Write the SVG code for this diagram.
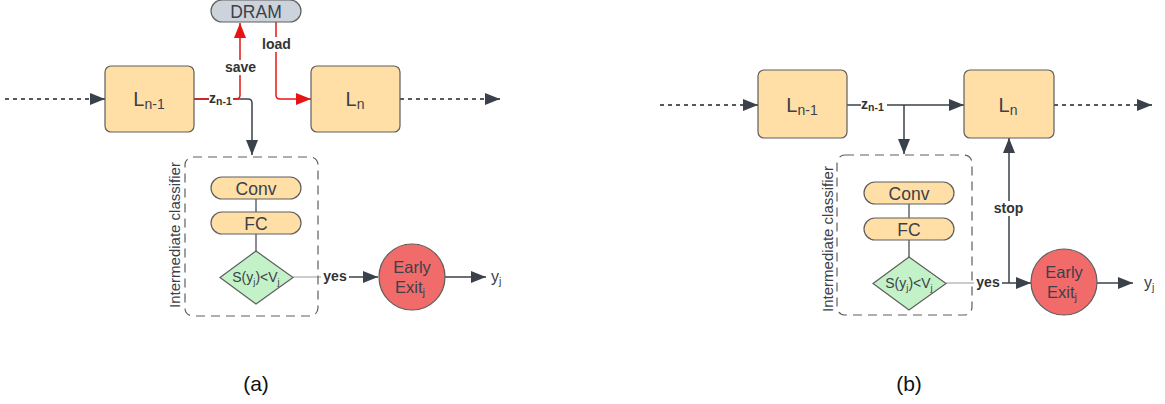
<svg xmlns="http://www.w3.org/2000/svg" width="1165" height="404" viewBox="0 0 1165 404">
<style>
.box{fill:#FFDFA6;stroke:#5E5E5E;stroke-width:1.2}
.pill{fill:#FFDFA6;stroke:#5E5E5E;stroke-width:1.2}
.dia{fill:#C4F2C8;stroke:#5E5E5E;stroke-width:1.2}
.circ{fill:#F26B6B;stroke:#5E5E5E;stroke-width:1.2}
.dram{fill:#CDD3DB;stroke:#5E5E5E;stroke-width:1.2}
.grp{fill:none;stroke:#5E5E5E;stroke-width:1.2;stroke-dasharray:9,6}
.ln{fill:none;stroke:#3A414A;stroke-width:1.5}
.thin{fill:none;stroke:#3A414A;stroke-width:1.2}
.gray{fill:none;stroke:#9A9A9A;stroke-width:1.2}
.dash{fill:none;stroke:#1F242A;stroke-width:1.4;stroke-dasharray:4,4}
.red{fill:none;stroke:#E81414;stroke-width:1.5}
text{font-family:"Liberation Sans",Arial,sans-serif;fill:#3A414A}
.big{font-size:20px}
.mid{font-size:17.5px}
.lab{font-size:14px;font-weight:bold;fill:#333}
.rot{font-size:15px}
.cap{font-size:21px;fill:#111}
.bg{fill:#fff}
</style>
<defs>
<marker id="ah" markerUnits="userSpaceOnUse" markerWidth="16" markerHeight="12" refX="15" refY="6" orient="auto"><path d="M0,0 L15,6 L0,12 z" fill="#3A414A"/></marker>
<marker id="ahr" markerUnits="userSpaceOnUse" markerWidth="16" markerHeight="12" refX="15" refY="6" orient="auto"><path d="M0,0 L15,6 L0,12 z" fill="#E81414"/></marker>
</defs>

<g id="connectors">
<!-- panel a -->
<path class="dash" d="M5,99 H105" marker-end="url(#ah)"/>
<path class="ln" d="M194,99 H248 Q252,99 252,103 V155" marker-end="url(#ah)"/>
<path class="red" d="M194,99 H236 Q240,99 240,95 V23" marker-end="url(#ahr)"/>
<path class="red" d="M276,22 V95 Q276,99 280,99 H311" marker-end="url(#ahr)"/>
<path class="dash" d="M400,99 H500" marker-end="url(#ah)"/>
<path class="thin" d="M256,199 V212"/>
<path class="thin" d="M256,234 V251"/>
<path class="gray" d="M293,277 H335"/>
<path class="ln" d="M335,277 H378" marker-end="url(#ah)"/>
<path class="ln" d="M445,277 H486" marker-end="url(#ah)"/>
<!-- panel b -->
<path class="dash" d="M660,105 H758" marker-end="url(#ah)"/>
<path class="ln" d="M847,105 H964" marker-end="url(#ah)"/>
<path class="ln" d="M904,105 V154" marker-end="url(#ah)"/>
<path class="dash" d="M1054,105 H1152" marker-end="url(#ah)"/>
<path class="thin" d="M909,204 V218"/>
<path class="thin" d="M909,240 V257"/>
<path class="gray" d="M946,283 H988"/>
<path class="ln" d="M988,283 H1031" marker-end="url(#ah)"/>
<path class="ln" d="M1009,283 V138" marker-end="url(#ah)"/>
<path class="ln" d="M1097,283 H1133" marker-end="url(#ah)"/>
<!-- labels -->
<rect class="bg" x="209" y="92" width="24" height="14"/>
<text class="lab" x="209" y="103">z<tspan font-size="10.5" dy="2">n-1</tspan></text>
<rect class="bg" x="223" y="60" width="35" height="15"/>
<text class="lab" x="240.5" y="72" text-anchor="middle">save</text>
<rect class="bg" x="260" y="37" width="33" height="15"/>
<text class="lab" x="276.5" y="49" text-anchor="middle">load</text>
<rect class="bg" x="321" y="270" width="28" height="14"/>
<text class="lab" x="335" y="281" text-anchor="middle">yes</text>
<rect class="bg" x="861" y="98" width="26" height="14"/>
<text class="lab" x="861" y="109">z<tspan font-size="10.5" dy="2">n-1</tspan></text>
<rect class="bg" x="974" y="276" width="28" height="14"/>
<text class="lab" x="988" y="287" text-anchor="middle">yes</text>
<rect class="bg" x="991" y="201" width="35" height="15"/>
<text class="lab" x="1008.5" y="213" text-anchor="middle">stop</text>
</g>

<!-- panel a nodes -->
<g id="a-dram"><rect class="dram" x="211" y="0" width="90" height="22" rx="11"/><text class="mid" x="256" y="18" text-anchor="middle">DRAM</text></g>
<g id="a-ln1"><rect class="box" x="105" y="66" width="89" height="66" rx="6"/><text class="big" x="149" y="106" text-anchor="middle">L<tspan font-size="14" dy="3">n-1</tspan></text></g>
<g id="a-ln"><rect class="box" x="311" y="66" width="89" height="66" rx="6"/><text class="big" x="355" y="106" text-anchor="middle">L<tspan font-size="14" dy="3">n</tspan></text></g>
<g id="a-classifier"><rect class="grp" x="185" y="157" width="133" height="159" rx="8"/><text class="rot" transform="translate(180,235) rotate(-90)" text-anchor="middle">Intermediate classifier</text></g>
<g id="a-conv"><rect class="pill" x="211" y="177" width="90" height="22" rx="11"/><text class="mid" x="256" y="194.5" text-anchor="middle">Conv</text></g>
<g id="a-fc"><rect class="pill" x="211" y="212" width="90" height="22" rx="11"/><text class="mid" x="256" y="229.5" text-anchor="middle">FC</text></g>
<g id="a-cond"><path class="dia" d="M256,251 L293,277.5 L256,304 L220,277.5 Z"/><text x="256" y="282" text-anchor="middle" font-size="14">S(y<tspan font-size="9.5" dy="3">j</tspan><tspan dy="-3">)&lt;V</tspan><tspan font-size="9.5" dy="3">j</tspan></text></g>
<g id="a-exit"><circle class="circ" cx="412" cy="277" r="33"/><text font-size="16.5" x="412" y="273" text-anchor="middle">Early</text><text font-size="16.5" x="410" y="293" text-anchor="middle">Exit<tspan font-size="11" dy="3">j</tspan></text></g>
<g id="a-yj"><text font-size="16" x="491" y="282">y<tspan font-size="10.5" dy="3">j</tspan></text></g>

<!-- panel b nodes -->
<g id="b-ln1"><rect class="box" x="758" y="70" width="89" height="68" rx="6"/><text class="big" x="802" y="112" text-anchor="middle">L<tspan font-size="14" dy="3">n-1</tspan></text></g>
<g id="b-ln"><rect class="box" x="964" y="70" width="90" height="68" rx="6"/><text class="big" x="1008" y="112" text-anchor="middle">L<tspan font-size="14" dy="3">n</tspan></text></g>
<g id="b-classifier"><rect class="grp" x="837" y="155" width="135" height="160" rx="8"/><text class="rot" transform="translate(833,239) rotate(-90)" text-anchor="middle">Intermediate classifier</text></g>
<g id="b-conv"><rect class="pill" x="864" y="182" width="90" height="22" rx="11"/><text class="mid" x="909" y="199.5" text-anchor="middle">Conv</text></g>
<g id="b-fc"><rect class="pill" x="864" y="218" width="90" height="22" rx="11"/><text class="mid" x="909" y="235.5" text-anchor="middle">FC</text></g>
<g id="b-cond"><path class="dia" d="M909,257 L946,283.5 L909,310 L873,283.5 Z"/><text x="909" y="288" text-anchor="middle" font-size="14">S(y<tspan font-size="9.5" dy="3">j</tspan><tspan dy="-3">)&lt;V</tspan><tspan font-size="9.5" dy="3">j</tspan></text></g>
<g id="b-exit"><circle class="circ" cx="1064" cy="282" r="33"/><text font-size="16.5" x="1064" y="278" text-anchor="middle">Early</text><text font-size="16.5" x="1062" y="298" text-anchor="middle">Exit<tspan font-size="11" dy="3">j</tspan></text></g>
<g id="b-yj"><text font-size="16" x="1144" y="288">y<tspan font-size="10.5" dy="3">j</tspan></text></g>

<text class="cap" x="256" y="391" text-anchor="middle">(a)</text>
<text class="cap" x="909" y="391" text-anchor="middle">(b)</text>
</svg>
